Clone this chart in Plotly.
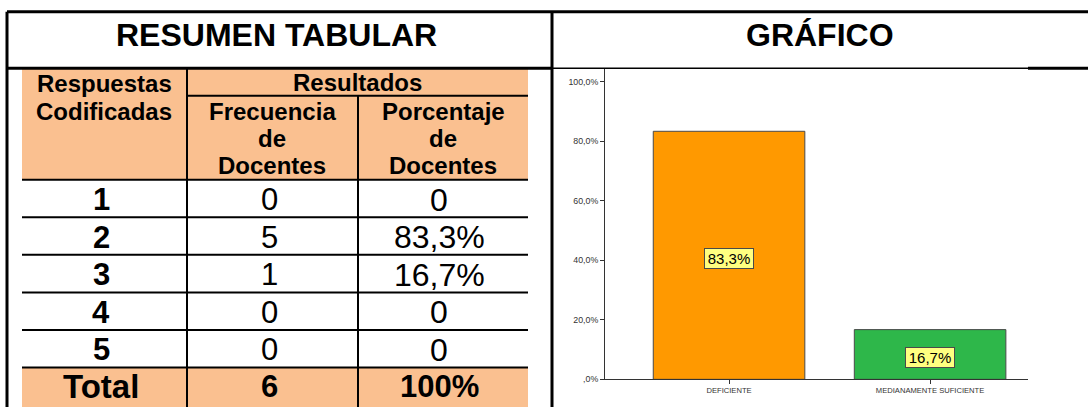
import plotly.graph_objects as go

# ---------------- data ----------------
codes = ["1", "2", "3", "4", "5"]
freq = ["0", "5", "1", "0", "0"]
pct = ["0", "83,3%", "16,7%", "0", "0"]
total_row = ["Total", "6", "100%"]

categories = ["DEFICIENTE", "MEDIANAMENTE SUFICIENTE"]
values = [83.3, 16.7]
bar_labels = ["83,3%", "16,7%"]
bar_colors = ["#FF9900", "#2EB74A"]
ytick_vals = [0, 20, 40, 60, 80, 100]
ytick_text = [",0%", "20,0%", "40,0%", "60,0%", "80,0%", "100,0%"]

W, H = 1088, 412
FONT = "Liberation Sans, Arial, sans-serif"
ORANGE_FILL = "#FAC090"


def px(x):
    return x / W


def py(y):
    return 1 - y / H


shapes = []
annotations = []


def rect(x0, y0, x1, y1, fill):
    shapes.append(dict(type="rect", xref="paper", yref="paper",
                       x0=px(x0), x1=px(x1), y0=py(y1), y1=py(y0),
                       fillcolor=fill, line=dict(width=0), layer="below"))


def line(x0, y0, x1, y1, w=2, color="black"):
    shapes.append(dict(type="line", xref="paper", yref="paper",
                       x0=px(x0), x1=px(x1), y0=py(y0), y1=py(y1),
                       line=dict(color=color, width=w)))


def text(x, y, s, size, bold=False):
    annotations.append(dict(xref="paper", yref="paper", x=px(x), y=py(y),
                            text=f"<b>{s}</b>" if bold else s,
                            showarrow=False, xanchor="center", yanchor="middle",
                            font=dict(family=FONT, size=size, color="black")))


# table fills
rect(22, 69, 528, 182, ORANGE_FILL)
rect(22, 372, 528, 412, ORANGE_FILL)

# outer frame
line(7, 12, W, 12, 3)
line(7, 12, 7, H, 3)
line(552, 12, 552, H, 3)
line(7, 69, 552, 69, 3)
line(552, 69, 1028, 69, 1.5)
line(1028, 69, W, 69, 3)

# table grid
line(187, 69, 187, H, 2)
line(358, 97, 358, H, 2)
line(187, 97, 528, 97, 2)
row_lines = [182, 220, 258, 296, 334, 372]
for yl in row_lines:
    line(22, yl, 528, yl, 2)

# titles
text(276, 35, "RESUMEN TABULAR", 32, True)
text(820, 35, "GRÁFICO", 32, True)

# header text
hdr_c = [104, 272, 443]
text(hdr_c[0], 85, "Respuestas", 24, True)
text(hdr_c[0], 113, "Codificadas", 24, True)
text((187 + 528) / 2, 84, "Resultados", 24, True)
for i, w in enumerate(["Frecuencia", "de", "Docentes"]):
    text(hdr_c[1], 113 + i * 27.5, w, 24, True)
for i, w in enumerate(["Porcentaje", "de", "Docentes"]):
    text(hdr_c[2], 113 + i * 27.5, w, 24, True)

# body rows
col_c = [101, 269, 439]
for i in range(len(codes)):
    yc = (row_lines[i] + row_lines[i + 1]) / 2 + 1
    text(col_c[0], yc, codes[i], 31, True)
    text(col_c[1], yc, freq[i], 31)
    text(col_c[2], yc, pct[i], 32)
for j, s in enumerate(total_row):
    text(col_c[j], 391, s, 33 if j == 0 else 31, True)

# ---------------- chart ----------------
fig = go.Figure()
fig.add_trace(go.Bar(
    x=[0, 1], y=values, width=0.754,
    marker=dict(color=bar_colors, line=dict(color="#4a4a4a", width=1)),
    hoverinfo="skip", showlegend=False,
))

for i, (v, lab) in enumerate(zip(values, bar_labels)):
    annotations.append(dict(
        xref="x", yref="y", x=i, y=v / 2, yshift=-3, text=lab, showarrow=False,
        xanchor="center", yanchor="middle",
        font=dict(family=FONT, size=15, color="black"),
        bgcolor="#FFFF80", bordercolor="#4a4a4a", borderwidth=1, borderpad=0,
        width=48, height=19,
    ))

fig.update_layout(
    width=W, height=H,
    margin=dict(l=0, r=0, t=0, b=0),
    paper_bgcolor="white", plot_bgcolor="white",
    font=dict(family=FONT),
    shapes=shapes, annotations=annotations,
    xaxis=dict(
        domain=[px(605), px(1028)],
        range=[-0.617, 1.487],
        tickmode="array", tickvals=[0, 1], ticktext=categories,
        ticks="outside", ticklen=4, tickcolor="#333", tickwidth=1,
        showline=True, linecolor="#333", linewidth=1,
        showgrid=False, zeroline=False,
        tickfont=dict(family=FONT, size=7.6, color="#333"),
        fixedrange=True,
    ),
    yaxis=dict(
        domain=[py(384), py(69)],
        range=[0, 104.5],
        tickmode="array", tickvals=ytick_vals, ticktext=ytick_text,
        ticks="outside", ticklen=4, tickcolor="#333", tickwidth=1,
        showline=True, linecolor="#333", linewidth=1,
        showgrid=False, zeroline=False,
        tickfont=dict(family=FONT, size=8.8, color="#333"),
        fixedrange=True,
    ),
)

fig.write_html(
    "out.html",
    config={"displayModeBar": False},
    post_script="document.body.style.margin='0';document.body.style.overflow='hidden';",
)
